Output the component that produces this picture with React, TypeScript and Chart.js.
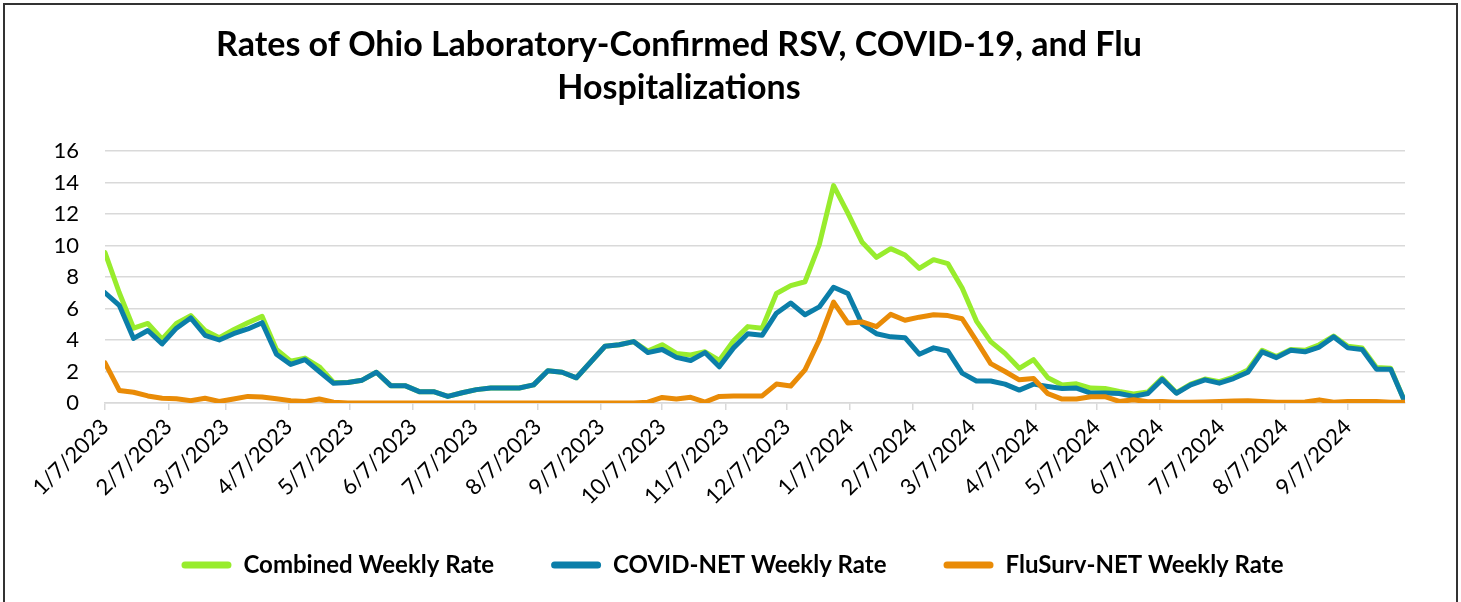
import React, { useEffect, useRef } from 'react';
import { Chart, registerables } from 'chart.js';

Chart.register(...registerables);

const TITLE_LINES = ['Rates of Ohio Laboratory-Confirmed RSV, COVID-19, and Flu', 'Hospitalizations'];
const START_DATE = '1/7/2023';
const TICK_LABELS = [
  '1/7/2023', '2/7/2023', '3/7/2023', '4/7/2023', '5/7/2023', '6/7/2023', '7/7/2023',
  '8/7/2023', '9/7/2023', '10/7/2023', '11/7/2023', '12/7/2023', '1/7/2024', '2/7/2024',
  '3/7/2024', '4/7/2024', '5/7/2024', '6/7/2024', '7/7/2024', '8/7/2024', '9/7/2024',
];
const SERIES_NAMES = ['Combined Weekly Rate', 'COVID-NET Weekly Rate', 'FluSurv-NET Weekly Rate'];
const SERIES_COLORS = ['#98EC2D', '#0B7EA9', '#E98B07'];
const Y_MIN = 0;
const Y_MAX = 16;
const Y_STEP = 2;

const COMBINED = [
  9.55, 7.0, 4.75, 5.05, 4.05, 5.05, 5.55, 4.6, 4.15, 4.65,
  5.1, 5.5, 3.4, 2.65, 2.85, 2.3, 1.3, 1.3, 1.45, 1.95,
  1.1, 1.1, 0.72, 0.72, 0.42, 0.65, 0.85, 0.95, 0.95, 0.95,
  1.15, 2.05, 1.95, 1.6, 2.6, 3.6, 3.7, 3.9, 3.3, 3.7,
  3.15, 3.05, 3.25, 2.7, 3.95, 4.85, 4.75, 6.95, 7.45, 7.7,
  10.05, 13.8, 12.05, 10.2, 9.25, 9.8, 9.4, 8.55, 9.1, 8.85,
  7.3, 5.2, 3.9, 3.15, 2.2, 2.75, 1.6, 1.15, 1.22, 0.95,
  0.92, 0.73, 0.57, 0.7, 1.58, 0.65, 1.2, 1.52, 1.35, 1.65,
  2.1, 3.35, 2.95, 3.4, 3.35, 3.7, 4.25, 3.6, 3.5, 2.25,
  2.2, 0.05,
];

const COVID = [
  7.0, 6.2, 4.1, 4.6, 3.75, 4.75, 5.4, 4.3, 4.0, 4.4,
  4.7, 5.1, 3.1, 2.45, 2.75, 2.0, 1.25, 1.3, 1.45, 1.95,
  1.1, 1.1, 0.72, 0.72, 0.42, 0.65, 0.85, 0.95, 0.95, 0.95,
  1.15, 2.05, 1.95, 1.6, 2.6, 3.6, 3.7, 3.9, 3.2, 3.4,
  2.9, 2.7, 3.2, 2.3, 3.5, 4.4, 4.3, 5.7, 6.35, 5.6,
  6.1, 7.35, 6.95, 5.0, 4.4, 4.2, 4.15, 3.1, 3.5, 3.3,
  1.9, 1.4, 1.4, 1.2, 0.82, 1.2, 1.05, 0.92, 0.95, 0.63,
  0.63, 0.6, 0.42, 0.6, 1.5, 0.62, 1.15, 1.47, 1.26, 1.55,
  1.95, 3.25, 2.88, 3.35, 3.25, 3.55, 4.2, 3.5, 3.4, 2.15,
  2.15, 0.05,
];

const FLU = [
  2.55, 0.8, 0.68, 0.45, 0.3, 0.27, 0.15, 0.3, 0.1, 0.25,
  0.42, 0.38, 0.27, 0.15, 0.1, 0.25, 0.05, 0, 0, 0,
  0, 0, 0, 0, 0, 0, 0, 0, 0, 0,
  0, 0, 0, 0, 0, 0, 0, 0, 0.05, 0.35,
  0.25, 0.36, 0.06, 0.42, 0.45, 0.45, 0.45, 1.2, 1.08, 2.1,
  4.0, 6.4, 5.08, 5.15, 4.85, 5.63, 5.25, 5.45, 5.6, 5.55,
  5.35, 3.95, 2.5, 2.0, 1.47, 1.55, 0.59, 0.25, 0.25, 0.4,
  0.4, 0.1, 0.2, 0.08, 0.1, 0.05, 0.05, 0.07, 0.1, 0.12,
  0.15, 0.1, 0.05, 0.05, 0.07, 0.2, 0.05, 0.1, 0.1, 0.1,
  0.05, 0.05,
];

const FONT = "Lato, 'Open Sans', 'DejaVu Sans', sans-serif";
const LEGEND_SHIFT = 10;

function parseMDY(s: string): number {
  const [m, d, y] = s.split('/').map(Number);
  return Date.UTC(y, m - 1, d);
}
const DAY_MS = 86400000;
const startMs = parseMDY(START_DATE);
const tickDays = TICK_LABELS.map((l) => Math.round((parseMDY(l) - startMs) / DAY_MS));
const tickLabelByDay = new Map<number, string>();
tickDays.forEach((d, i) => tickLabelByDay.set(d, TICK_LABELS[i]));

const toPoints = (arr: number[]) => arr.map((y, i) => ({ x: i * 7, y }));

const titlePlugin = {
  id: 'twoLineTitle',
  afterLayout(chart: any) {
    if (chart.legend) {
      chart.legend.left += LEGEND_SHIFT;
      chart.legend.right += LEGEND_SHIFT;
    }
  },
  afterDraw(chart: any) {
    const ctx = chart.ctx;
    ctx.save();
    ctx.font = `bold 34px ${FONT}`;
    ctx.fillStyle = '#000';
    ctx.textAlign = 'center';
    ctx.textBaseline = 'alphabetic';
    ctx.fillText(TITLE_LINES[0], 679, 56);
    ctx.fillText(TITLE_LINES[1], 679, 99);
    ctx.restore();
  },
};

export default function App() {
  const canvasRef = useRef<HTMLCanvasElement | null>(null);

  useEffect(() => {
    document.body.style.margin = '0';
    const canvas = canvasRef.current;
    if (!canvas) return;
    Chart.defaults.font.family = FONT;
    Chart.defaults.color = '#000';

    const makeDs = (idx: number, values: number[]) => ({
      label: SERIES_NAMES[idx],
      data: toPoints(values),
      borderColor: SERIES_COLORS[idx],
      backgroundColor: SERIES_COLORS[idx],
      borderWidth: 5,
      pointRadius: 0,
      pointHoverRadius: 0,
      tension: 0,
      borderCapStyle: 'round',
      borderJoinStyle: 'round',
    });

    const chart = new Chart(canvas, {
      type: 'line',
      data: {
        datasets: [makeDs(2, FLU), makeDs(1, COVID), makeDs(0, COMBINED)] as any,
      },
      options: {
        animation: false,
        responsive: false,
        devicePixelRatio: 1,
        layout: { padding: { top: 151, left: 40, right: 56, bottom: 15 } },
        plugins: {
          title: { display: false },
          tooltip: { enabled: false },
          legend: {
            display: true,
            position: 'bottom',
            reverse: true,
            labels: {
              font: { size: 24, weight: 'bold', family: FONT },
              color: '#000',
              boxWidth: 50,
              boxHeight: 7,
              useBorderRadius: true,
              borderRadius: 3.5,
              padding: 57,
              generateLabels: (c: any) => {
                const items = (Chart.defaults.plugins.legend.labels as any).generateLabels(c);
                items.forEach((it: any) => {
                  it.lineWidth = 0;
                  it.strokeStyle = 'rgba(0,0,0,0)';
                });
                return items;
              },
            },
          },
        },
        scales: {
          x: {
            type: 'linear',
            min: 0,
            max: (COMBINED.length - 1) * 7,
            afterBuildTicks: (scale: any) => {
              scale.ticks = tickDays.map((v) => ({ value: v }));
            },
            afterFit: (scale: any) => {
              scale.height = 93;
              scale._computeLabelArea = () => undefined;
            },
            ticks: {
              autoSkip: false,
              minRotation: 45,
              maxRotation: 45,
              padding: 4,
              font: { size: 22, family: FONT },
              color: '#000',
              callback: (v: any) => tickLabelByDay.get(Math.round(Number(v))) ?? '',
            },
            grid: {
              display: true,
              drawOnChartArea: false,
              drawTicks: true,
              tickLength: 7,
              color: '#d9d9d9',
              lineWidth: 1.5,
            },
            border: { display: true, color: '#d9d9d9', width: 1.5 },
          },
          y: {
            type: 'linear',
            min: Y_MIN,
            max: Y_MAX,
            afterFit: (scale: any) => {
              scale.width = 65;
            },
            ticks: {
              stepSize: Y_STEP,
              padding: 26,
              font: { size: 22, family: FONT },
              color: '#000',
            },
            grid: {
              color: '#d9d9d9',
              lineWidth: 1.5,
              drawTicks: false,
            },
            border: { display: false },
          },
        },
      } as any,
      plugins: [titlePlugin],
    });

    return () => {
      chart.destroy();
    };
  }, []);

  return (
    <div style={{ position: 'fixed', left: 0, top: 0, width: 1461, height: 602, overflow: 'hidden', background: '#fff' }}>
      <canvas ref={canvasRef} width={1461} height={602} style={{ position: 'absolute', left: 0, top: 0, width: 1461, height: 602 }} />
      <div
        style={{
          position: 'absolute',
          left: 3,
          top: 3,
          width: 1451,
          height: 640,
          border: '2px solid #333',
          pointerEvents: 'none',
        }}
      />
    </div>
  );
}
